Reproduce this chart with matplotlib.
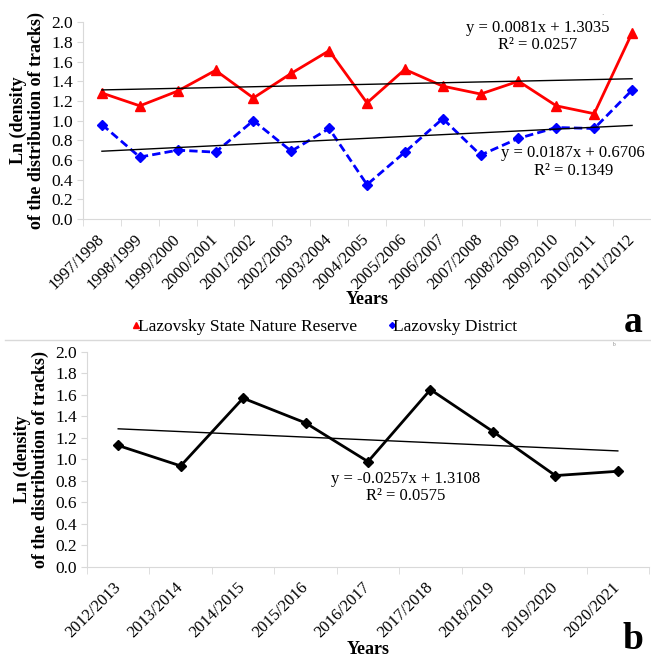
import matplotlib
matplotlib.use("Agg")
import matplotlib.pyplot as plt
import numpy as np

plt.rcParams["font.family"] = ["Liberation Serif", "DejaVu Serif"]

# panel a data
seasons_a = ["1997/1998", "1998/1999", "1999/2000", "2000/2001", "2001/2002",
             "2002/2003", "2003/2004", "2004/2005", "2005/2006", "2006/2007",
             "2007/2008", "2008/2009", "2009/2010", "2010/2011", "2011/2012"]
reserve = [1.28, 1.15, 1.30, 1.51, 1.23, 1.48, 1.71, 1.18, 1.52, 1.35,
           1.27, 1.40, 1.15, 1.07, 1.89]
district = [0.96, 0.63, 0.70, 0.68, 1.00, 0.69, 0.92, 0.35, 0.68, 1.02,
            0.65, 0.82, 0.93, 0.92, 1.31]
trend_reserve = (0.0081, 1.3035)
trend_district = (0.0187, 0.6706)

# panel b data
seasons_b = ["2012/2013", "2013/2014", "2014/2015", "2015/2016", "2016/2017",
             "2017/2018", "2018/2019", "2019/2020", "2020/2021"]
density_b = [1.13, 0.94, 1.57, 1.34, 0.98, 1.65, 1.26, 0.85, 0.89]
trend_b = (-0.0257, 1.3108)

ylabel = "Ln (density\nof the distribution of tracks)"
grey = "#d9d9d9"

fig = plt.figure(figsize=(6.51, 6.60), dpi=100)
ax1 = fig.add_axes([0.1275, 0.668, 0.8725, 0.2985])
ax2 = fig.add_axes([0.1336, 0.141, 0.8634, 0.3257])


def style_axis(ax, labels):
    n = len(labels)
    ax.set_xlim(-0.5, n - 0.5)
    ax.set_ylim(0, 2.0)
    ax.set_yticks(np.arange(0, 2.01, 0.2))
    ax.set_yticklabels([f"{v:.1f}" for v in np.arange(0, 2.01, 0.2)], fontsize=12.5)
    ax.set_xticks(np.arange(n))
    ax.set_xticklabels(labels, rotation=45, ha="right", va="center",
                       rotation_mode="anchor", fontsize=12)
    ax.set_xticks(np.arange(n + 1) - 0.5, minor=True)
    ax.tick_params(axis="x", which="major", length=0, pad=13)
    ax.tick_params(axis="x", which="minor", length=5, color=grey)
    ax.tick_params(axis="y", length=4, color=grey, pad=3)
    for s in ["top", "right"]:
        ax.spines[s].set_visible(False)
    for s in ["left", "bottom"]:
        ax.spines[s].set_color(grey)
    ax.set_ylabel(ylabel, fontsize=13, fontweight="bold", linespacing=1.0, labelpad=5)


# panel a
xa = np.arange(len(seasons_a))
l1, = ax1.plot(xa, reserve, color="#ff0000", lw=2, marker="^", ms=7,
               label="Lazovsky State Nature Reserve")
l2, = ax1.plot(xa, district, color="#0000ff", lw=2, ls=(0, (3, 1.5)), marker="D",
               ms=5, label="Lazovsky District")
ta = np.array([xa[0], xa[-1]])
ax1.plot(ta, trend_reserve[0] * (ta + 1) + trend_reserve[1], color="black", lw=1)
ax1.plot(ta, trend_district[0] * (ta + 1) + trend_district[1], color="black", lw=1)
style_axis(ax1, seasons_a)
ax1.text(11.5, 1.85, "y = 0.0081x + 1.3035\nR² = 0.0257", ha="center", va="center",
         fontsize=12, linespacing=1.1)
ax1.text(12.45, 0.58, "y = 0.0187x + 0.6706\nR² = 0.1349", ha="center", va="center",
         fontsize=12, linespacing=1.1)
fig.text(0.926, 0.976, "·", ha="center", va="center", fontsize=5, color="#555555")

# panel b
xb = np.arange(len(seasons_b))
ax2.plot(xb, density_b, color="black", lw=2, marker="D", ms=5)
tb = np.array([xb[0], xb[-1]])
ax2.plot(tb, trend_b[0] * (tb + 1) + trend_b[1], color="black", lw=1)
style_axis(ax2, seasons_b)
ax2.text(4.6, 0.74, "y = -0.0257x + 1.3108\nR² = 0.0575", ha="center", va="center",
         fontsize=12, linespacing=1.1)

fig.text(0.564, 0.546, "Years", ha="center", va="center", fontsize=13, fontweight="bold")
fig.text(0.566, 0.016, "Years", ha="center", va="center", fontsize=13, fontweight="bold")
fig.text(0.972, 0.512, "a", ha="center", va="center", fontsize=27, fontweight="bold")
fig.text(0.972, 0.004, "b", ha="center", va="bottom", fontsize=27, fontweight="bold")
fig.text(0.944, 0.478, "b", ha="center", va="center", fontsize=4, color="#888888")

fig.legend(handles=[l1, l2], loc="center", bbox_to_anchor=(0.502, 0.505), ncol=2,
           frameon=False, fontsize=12.5, handlelength=0, handletextpad=0.1,
           columnspacing=2.0, markerscale=0.6)

fig.add_artist(plt.Line2D([0.008, 1.0], [0.485, 0.485], color=grey, lw=1,
                          transform=fig.transFigure))

fig.savefig("out.png", dpi=100)
